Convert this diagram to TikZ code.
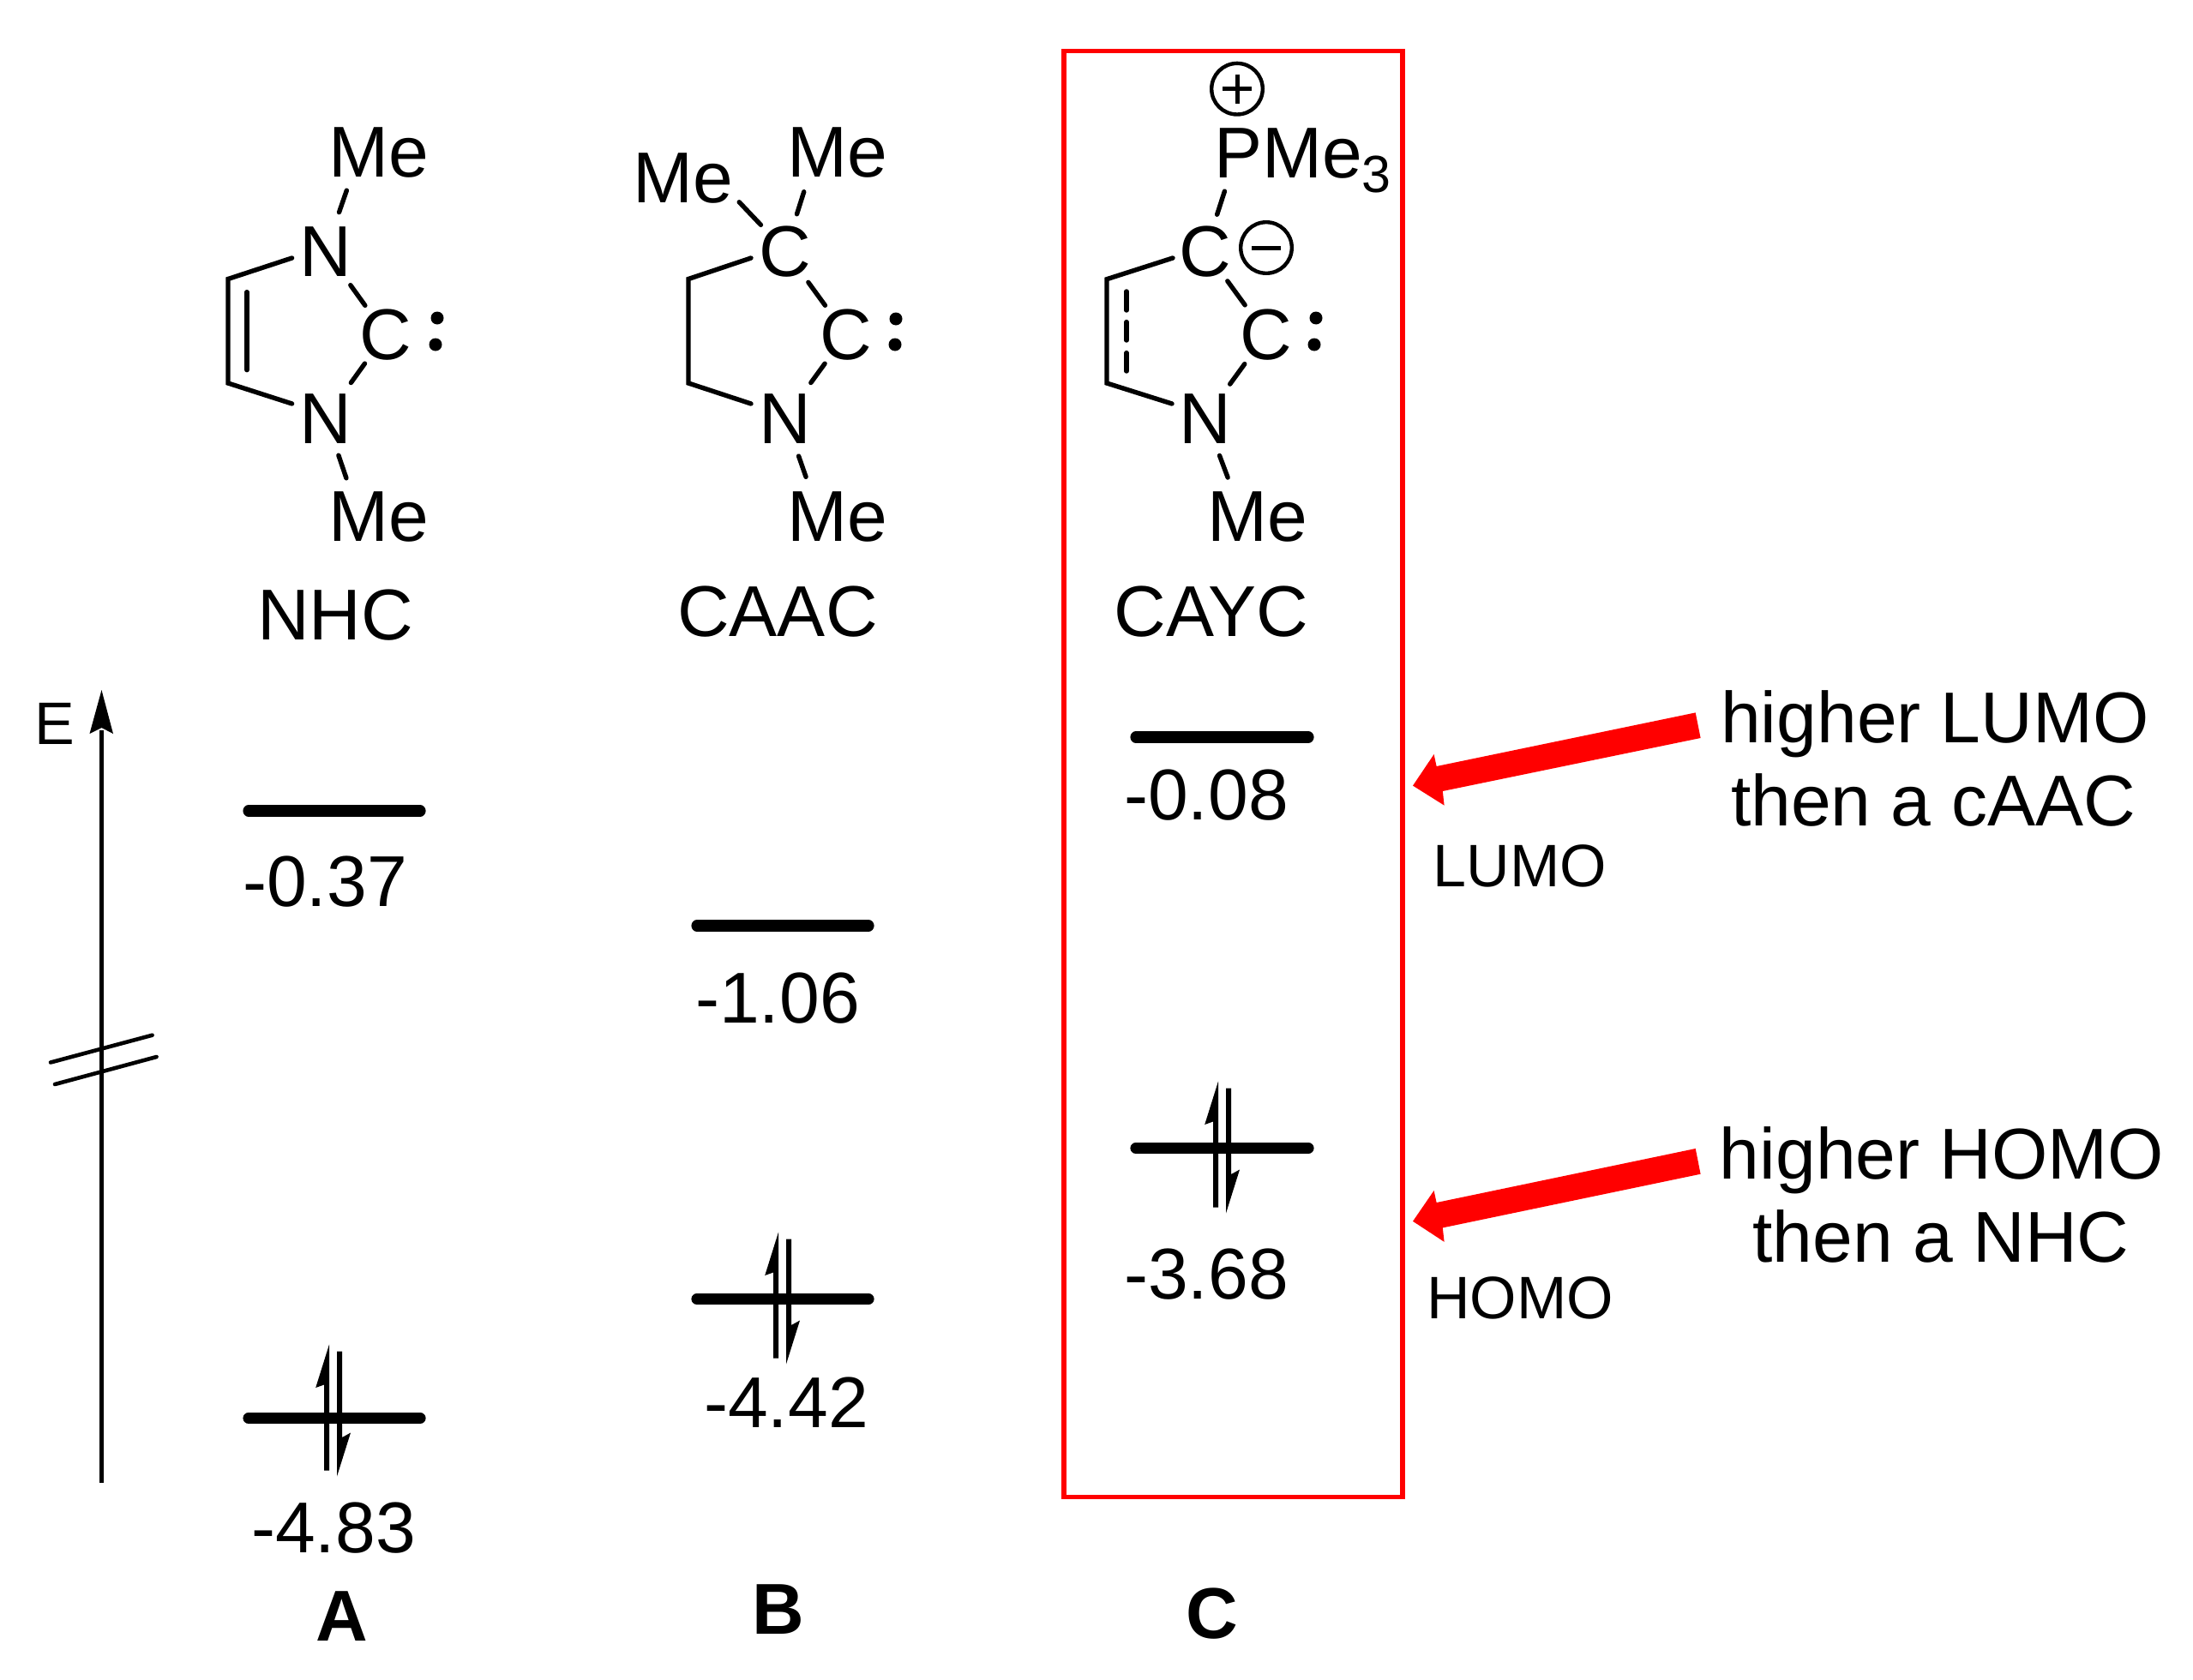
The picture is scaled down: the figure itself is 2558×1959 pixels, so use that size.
\documentclass[tikz,border=0pt]{standalone}
\usepackage{fontspec}
\setmainfont{Liberation Sans}
\tikzset{
  txt/.style={inner sep=0pt,outer sep=0pt,font=\fontsize{84}{84}\selectfont},
  atom/.style={txt,anchor=center,text height=59pt,text depth=0pt},
  lab/.style={txt,anchor=base},
  smalllab/.style={inner sep=0pt,outer sep=0pt,anchor=base,font=\fontsize{70}{70}\selectfont},
  boldlab/.style={inner sep=0pt,outer sep=0pt,anchor=base,font=\fontsize{84}{84}\selectfont\bfseries},
  bond/.style={line width=5.4pt,line cap=round,line join=miter},
  level/.style={line width=13.2pt,line cap=round},
  axisline/.style={line width=5.3pt},
  breakline/.style={line width=4.6pt,line cap=round},
  charge/.style={circle,draw,line width=4.4pt,minimum size=59.6pt,inner sep=0pt},
  chargemark/.style={line width=5pt},
  lonepair/.style={fill=black},
  redarrow/.style={fill=red,draw=none},
  highlight/.style={draw=red,line width=5.5pt},
}
\newcommand{\electrons}[2]{%
  \begin{scope}[shift={(#1,#2)}]
    \fill (-6,-77.5) -- (-6,69.5) -- (-12,69.5) -- (-12,-30.5) -- (-21.8,-27) -- cycle;
    \fill (3,76.5) -- (3,-69.5) -- (9,-69.5) -- (9,31) -- (19,25.5) -- cycle;
  \end{scope}}
\begin{document}
\begin{tikzpicture}[x=1pt,y=-1pt]
\useasboundingbox (0,0) rectangle (2558,1959);
\fill[white] (0,0) rectangle (2558,1959);

% Highlight box
\node[highlight,inner sep=0pt,anchor=north west,minimum width=395pt,minimum height=1687pt] (box) at (1238.2,56.6) {};

% NHC
\node[atom] (n1a) at (380,292.5) {N};
\node[atom] (c1a) at (450,390) {C};
\node[atom] (n1b) at (380,487.5) {N};
\node[lab] (me1a) at (442,206) {Me};
\node[lab] (me1b) at (442,631) {Me};
\coordinate (me1at) at (420,177);
\coordinate (me1bt) at (419,602);
\coordinate (r1a) at (340.6,301);
\coordinate (r1b) at (266,325.5);
\coordinate (r1c) at (266,447);
\coordinate (r1d) at (340.6,471);
\coordinate (d1a) at (288,340.7);
\coordinate (d1b) at (288,431.7);
\draw[bond] (r1a) -- (r1b) -- (r1c) -- (r1d);
\draw[bond] (d1a) -- (d1b);
\draw[bond,shorten <=47.4pt,shorten >=47.8pt] (n1a.center) -- (me1at);
\draw[bond,shorten <=49.4pt,shorten >=41.4pt] (n1a.center) -- (c1a.center);
\draw[bond,shorten <=42pt,shorten >=50.4pt] (c1a.center) -- (n1b.center);
\draw[bond,shorten <=46.2pt,shorten >=46.7pt] (n1b.center) -- (me1bt);
\fill[lonepair] (510,371) circle (7.5);
\fill[lonepair] (508,402) circle (7.5);
\node[lab] (nhc) at (391,746) {NHC};

% CAAC
\node[atom] (c2u) at (916,292.5) {C};
\node[atom] (c2l) at (987,390) {C};
\node[atom] (n2) at (916,487.5) {N};
\node[lab] (me2a) at (977,206) {Me};
\node[lab] (me2b) at (797,236) {Me};
\node[lab] (me2c) at (977,631) {Me};
\coordinate (me2at) at (952.5,177);
\coordinate (me2bt) at (834,206);
\coordinate (me2ct) at (956,602);
\coordinate (r2a) at (876,301);
\coordinate (r2b) at (803,325.5);
\coordinate (r2c) at (803,447);
\coordinate (r2d) at (876,471);
\draw[bond] (r2a) -- (r2b) -- (r2c) -- (r2d);
\draw[bond,shorten <=44.8pt,shorten >=49pt] (c2u.center) -- (me2at);
\draw[bond,shorten <=41.5pt,shorten >=41pt] (c2u.center) -- (me2bt);
\draw[bond,shorten <=45.6pt,shorten >=41.7pt] (c2u.center) -- (c2l.center);
\draw[bond,shorten <=42.3pt,shorten >=50.7pt] (c2l.center) -- (n2.center);
\draw[bond,shorten <=47.2pt,shorten >=48.4pt] (n2.center) -- (me2ct);
\fill[lonepair] (1045,372) circle (7.5);
\fill[lonepair] (1044,402) circle (7.5);
\node[lab] (caac) at (907,742) {CAAC};

% CAYC
\node[atom] (c3u) at (1406,292.5) {C};
\node[atom] (c3l) at (1477,390) {C};
\node[atom] (n3) at (1406,487.5) {N};
\node[lab] (me3) at (1467,631) {Me};
\node[txt,anchor=base west] (pme) at (1416,207) {PMe\raisebox{-17pt}{\fontsize{61}{61}\selectfont 3}};
\coordinate (pt) at (1443,178);
\coordinate (me3t) at (1449,602);
\coordinate (r3a) at (1368,301);
\coordinate (r3b) at (1291,325.7);
\coordinate (r3c) at (1291,447);
\coordinate (r3d) at (1367,471);
\coordinate (d3a) at (1314,340);
\coordinate (d3b) at (1314,362);
\coordinate (d3c) at (1314,375.6);
\coordinate (d3d) at (1314,397);
\coordinate (d3e) at (1314,411.6);
\coordinate (d3f) at (1314,433);
\draw[bond] (r3a) -- (r3b) -- (r3c) -- (r3d);
\draw[bond] (d3a) -- (d3b);
\draw[bond] (d3c) -- (d3d);
\draw[bond] (d3e) -- (d3f);
\draw[bond,shorten <=44.4pt,shorten >=47.4pt] (c3u.center) -- (pt);
\draw[bond,shorten <=43.8pt,shorten >=42.2pt] (c3u.center) -- (c3l.center);
\draw[bond,shorten <=42.8pt,shorten >=48.7pt] (c3l.center) -- (n3.center);
\draw[bond,shorten <=47pt,shorten >=48pt] (n3.center) -- (me3t);
\fill[lonepair] (1535,371) circle (7.5);
\fill[lonepair] (1533,402) circle (7.5);
\node[charge] (plus) at (1443,103.7) {};
\draw[chargemark] (1426,103.7) -- (1460,103.7);
\draw[chargemark] (1443,86.7) -- (1443,120.7);
\node[charge] (minus) at (1477,289) {};
\draw[chargemark] (1460,289) -- (1494,289);
\node[lab] (cayc) at (1413,742) {CAYC};

% Energy axis
\coordinate (axb) at (118.5,1729.6);
\coordinate (axt) at (118.5,852);
\draw[axisline] (axb) -- (axt);
\fill (118.5,805) -- (132,856) -- (118.5,849) -- (104.5,856) -- cycle;
\node[smalllab] (e) at (64,868) {E};
\coordinate (bk1a) at (59,1239.5);
\coordinate (bk1b) at (177.6,1207.7);
\coordinate (bk2a) at (64,1265);
\coordinate (bk2b) at (182.6,1233);
\draw[breakline] (bk1a) -- (bk1b);
\draw[breakline] (bk2a) -- (bk2b);

% Levels A
\coordinate (la1) at (290,946); \coordinate (la2) at (490,946);
\draw[level] (la1) -- (la2);
\node[lab] (va1) at (379,1057) {-0.37};
\coordinate (la3) at (290,1654.5); \coordinate (la4) at (490,1654.5);
\draw[level] (la3) -- (la4);
\electrons{390}{1646}
\node[lab] (va2) at (389,1811) {-4.83};
\node[boldlab] (la) at (399,1914) {A};

% Levels B
\coordinate (lb1) at (813,1080); \coordinate (lb2) at (1013,1080);
\draw[level] (lb1) -- (lb2);
\node[lab] (vb1) at (907,1193) {-1.06};
\coordinate (lb3) at (813,1515.5); \coordinate (lb4) at (1013,1515.5);
\draw[level] (lb3) -- (lb4);
\electrons{914}{1515}
\node[lab] (vb2) at (917,1665.5) {-4.42};
\node[boldlab] (lbb) at (908,1906) {B};

% Levels C
\coordinate (lc1) at (1325,860); \coordinate (lc2) at (1526,860);
\draw[level] (lc1) -- (lc2);
\node[lab] (vc1) at (1407,956) {-0.08};
\coordinate (lc3) at (1325,1339.5); \coordinate (lc4) at (1526,1339.5);
\draw[level] (lc3) -- (lc4);
\electrons{1427}{1339}
\node[lab] (vc2) at (1407,1515) {-3.68};
\node[boldlab] (lcc) at (1414,1911) {C};

% Red arrows
\fill[redarrow] (1648,916.6) -- (1672.6,880) -- (1675.6,894) -- (1977.7,831.4) -- (1983.6,861) -- (1682.8,923) -- (1684.6,939.6) -- cycle;
\fill[redarrow] (1648,1424.8) -- (1672.6,1389) -- (1675.6,1403) -- (1977.7,1340) -- (1983.6,1369.7) -- (1682.8,1432.4) -- (1684.6,1448.8) -- cycle;

% Annotations
\node[lab] (t1) at (2257,866) {higher LUMO};
\node[lab] (t2) at (2255,963) {then a cAAC};
\node[lab] (t3) at (2265,1375) {higher HOMO};
\node[lab] (t4) at (2264,1472) {then a NHC};
\node[smalllab] (lumo) at (1773,1034) {LUMO};
\node[smalllab] (homo) at (1773,1538) {HOMO};
\end{tikzpicture}
\end{document}
